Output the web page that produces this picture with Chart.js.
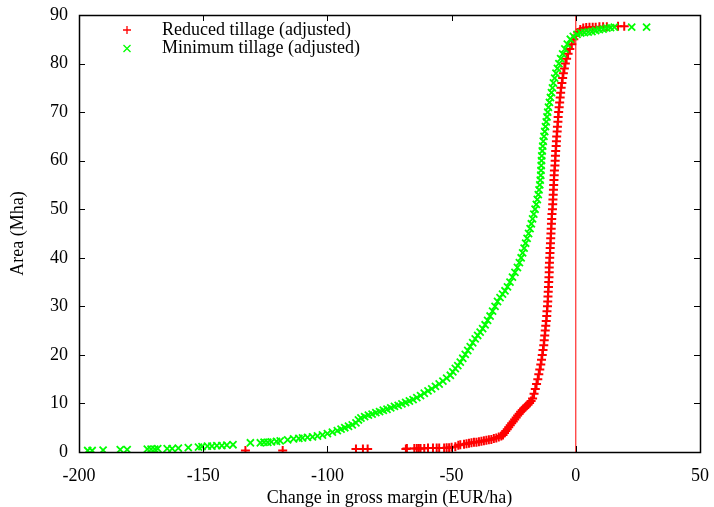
<!DOCTYPE html>
<html>
<head>
<meta charset="utf-8">
<script src="https://cdn.jsdelivr.net/npm/chart.js@4"></script>
<style>
  body { margin: 0; background: #fff; }
</style>
</head>
<body>
<canvas id="chart" width="714" height="507"></canvas>
<script>
// cumulative area (Mha) against change in gross margin (EUR/ha), sorted
const reducedTillage = [
  [-133, 0.3], [-118, 0.3], [-88.5, 0.6], [-85.7, 0.6], [-83.8, 0.6],
  [-68.4, 0.6], [-68, 0.7], [-65, 0.7], [-64, 0.7], [-63.2, 0.7], [-62.5, 0.7], [-61, 0.7], [-59.5, 0.8],
  [-57.5, 0.8], [-56, 0.8], [-55, 0.8], [-53, 0.8], [-52, 0.9], [-51, 0.9], [-50, 1.0], [-48.5, 1.1],
  [-47.3, 1.4], [-46.5, 1.5], [-45, 1.6], [-44, 1.7], [-43, 1.8], [-42, 1.9], [-41, 2.0], [-40, 2.0],
  [-39, 2.1], [-38, 2.2], [-37, 2.3], [-36, 2.4], [-35, 2.5], [-34, 2.6], [-33, 2.8], [-32, 2.9],
  [-31, 3.1], [-30, 3.3], [-29.3, 3.5], [-28.7, 3.9], [-28.2, 4.3], [-27.6, 4.7], [-27, 5.1], [-26.4, 5.5],
  [-25.8, 5.9], [-25.2, 6.3], [-24.6, 6.7], [-24, 7.1], [-23.4, 7.5], [-22.8, 7.9], [-22.2, 8.3], [-21.6, 8.6],
  [-21, 8.9], [-20.4, 9.2], [-19.8, 9.5], [-19.2, 9.8], [-18.6, 10.1], [-18, 10.5],
  [-17.4, 11], [-16.8, 12], [-16.3, 13], [-15.8, 14], [-15.3, 15], [-14.9, 16], [-14.5, 17], [-14.1, 18], [-13.8, 19], [-13.5, 20],
  [-13.2, 21], [-12.9, 22], [-12.7, 23], [-12.5, 24], [-12.3, 25], [-12.1, 26], [-11.9, 27], [-11.7, 28], [-11.6, 29], [-11.4, 30],
  [-11.3, 31], [-11.2, 32], [-11.1, 33], [-11.0, 34], [-10.9, 35], [-10.8, 36], [-10.7, 37], [-10.7, 38], [-10.6, 39], [-10.5, 40],
  [-10.4, 41], [-10.3, 42], [-10.2, 43], [-10.1, 44], [-10.0, 45], [-9.9, 46], [-9.8, 47], [-9.7, 48], [-9.6, 49], [-9.4, 50],
  [-9.3, 51], [-9.2, 52], [-9.1, 53], [-9.0, 54], [-8.9, 55], [-8.8, 56], [-8.7, 57], [-8.6, 58], [-8.4, 59], [-8.3, 60],
  [-8.2, 61], [-8.1, 62], [-7.9, 63], [-7.8, 64], [-7.7, 65], [-7.5, 66], [-7.4, 67], [-7.2, 68], [-7.1, 69], [-6.9, 70],
  [-6.7, 71], [-6.5, 72], [-6.3, 73], [-6.1, 74], [-5.9, 75], [-5.6, 76], [-5.3, 77], [-5.0, 78], [-4.6, 79], [-4.2, 80],
  [-3.7, 81], [-3.1, 82], [-2.4, 83], [-1.6, 84], [-0.8, 85], [0, 85.8], [0.8, 86.4], [1.8, 87], [3, 87.3], [4.2, 87.4],
  [5.5, 87.5], [6.8, 87.5], [8, 87.5], [9.5, 87.6], [11, 87.6], [12.5, 87.6], [17, 87.7], [19.5, 87.7]
];

const minimumTillage = [
  [-196.5, 0.3], [-194.7, 0.3], [-190.3, 0.4], [-183.4, 0.5], [-180.6, 0.5], [-172.5, 0.6], [-171, 0.6],
  [-169.5, 0.6], [-168.3, 0.7], [-164.5, 0.7], [-162.5, 0.7], [-160, 0.8], [-156, 0.9], [-151.9, 1.0],
  [-150.5, 1.1], [-148.3, 1.2], [-146.5, 1.2], [-144.5, 1.3], [-142.5, 1.3], [-140.5, 1.4], [-138, 1.5],
  [-131, 1.9], [-127, 1.9], [-125.5, 2.0], [-124, 2.0], [-122.5, 2.1], [-120.5, 2.2], [-119, 2.3],
  [-116, 2.5], [-113.6, 2.7], [-111.5, 2.8], [-110, 2.9], [-108, 3.0],
  [-106, 3.1], [-104, 3.3], [-102, 3.5], [-100, 3.8], [-98, 4.1], [-96, 4.4], [-94.5, 4.7], [-93, 5.0], [-91.5, 5.3], [-90, 5.6],
  [-88.5, 6.0], [-87.5, 6.6], [-86.5, 7.0], [-85, 7.3], [-83.5, 7.6], [-82, 7.8], [-80.5, 8.1], [-79, 8.3], [-77.5, 8.6], [-76, 8.8],
  [-74.5, 9.1], [-73, 9.4], [-71.5, 9.6], [-70, 9.9], [-68.5, 10.2], [-67, 10.5], [-65.5, 10.8], [-64, 11.2], [-62.5, 11.6], [-61, 12.1],
  [-59.5, 12.6], [-58, 13.0], [-56.5, 13.5], [-55, 14.0], [-53.5, 14.6], [-52, 15.2], [-50.5, 15.8], [-49.5, 16.5], [-48.5, 17.2], [-47.5, 17.8],
  [-46.5, 18.5], [-45.5, 19.3], [-44.5, 20.1], [-43.5, 20.9], [-42.5, 21.7], [-41.5, 22.5], [-40.5, 23.3], [-39.5, 24.0], [-38.5, 24.7], [-37.5, 25.4],
  [-36.5, 26.2], [-35.5, 27.1], [-34.5, 28.0], [-33.5, 29.0], [-32.5, 30.0], [-31.5, 31.0], [-30.5, 31.8], [-29.5, 32.5], [-28.5, 33.2], [-27.5, 34.0],
  [-26.5, 35.0], [-25.5, 36.0], [-24.5, 37.0], [-23.5, 38.0], [-22.7, 39.0], [-22, 40.0], [-21.4, 41.0], [-20.8, 42.0], [-20.2, 43.0], [-19.6, 44.0],
  [-19.0, 45.0], [-18.4, 46.0], [-17.9, 47.0], [-17.4, 48.0], [-16.9, 49.0], [-16.4, 50.0], [-15.9, 51.0], [-15.5, 52.0], [-15.1, 53.0], [-14.8, 54.0],
  [-14.5, 55.0], [-14.3, 56.0], [-14.1, 57.0], [-14.0, 58.0], [-13.9, 59.0], [-13.8, 60.0], [-13.7, 61.0], [-13.5, 62.0], [-13.3, 63.0], [-13.1, 64.0],
  [-12.8, 65.0], [-12.5, 66.0], [-12.2, 67.0], [-11.9, 68.0], [-11.6, 69.0], [-11.3, 70.0], [-11.0, 71.0], [-10.6, 72.0], [-10.2, 73.0], [-9.8, 74.0],
  [-9.4, 75.0], [-9.0, 76.0], [-8.5, 77.0], [-8.0, 78.0], [-7.4, 79.0], [-6.8, 80.0], [-6.1, 81.0], [-5.3, 82.0], [-4.4, 83.0], [-3.4, 84.0],
  [-2.2, 85.0], [-1.0, 85.6], [0.5, 86.0], [2, 86.3], [3.5, 86.4], [5, 86.5], [6.5, 86.6], [8, 86.8], [9.5, 87.0], [11, 87.1],
  [12.5, 87.3], [14, 87.4], [15.5, 87.5], [22.5, 87.5], [28.5, 87.5]
];

const seriesNames = ["Reduced tillage (adjusted)", "Minimum tillage (adjusted)"];
const seriesColors = ["#ff0000", "#00ff00"];
const xTicks = [-200, -150, -100, -50, 0, 50];
const yTicks = [0, 10, 20, 30, 40, 50, 60, 70, 80, 90];
const zeroLine = [[0, 0], [0, 90]];

const serif = { family: '"Liberation Serif", "Times New Roman", serif', size: 18 };

const toPoints = arr => arr.map(p => ({ x: p[0], y: p[1] }));

// frame, inward tick marks on all four sides, and the key in the top-left corner
const framePlugin = {
    id: "frame",
    afterDatasetsDraw(chart) {
        const ctx = chart.ctx;
        const a = chart.chartArea;
        const xs = chart.scales.x;
        const ys = chart.scales.y;
        const t = 6;
        ctx.save();
        ctx.strokeStyle = "#000";
        ctx.lineWidth = 1;
        ctx.beginPath();
        xTicks.forEach(v => {
            const px = Math.round(xs.getPixelForValue(v)) + 0.5;
            ctx.moveTo(px, a.bottom); ctx.lineTo(px, a.bottom - t);
            ctx.moveTo(px, a.top); ctx.lineTo(px, a.top + t);
        });
        yTicks.forEach(v => {
            const py = Math.round(ys.getPixelForValue(v)) + 0.5;
            ctx.moveTo(a.left, py); ctx.lineTo(a.left + t, py);
            ctx.moveTo(a.right, py); ctx.lineTo(a.right - t, py);
        });
        ctx.stroke();
        ctx.lineWidth = 1.5;
        ctx.strokeRect(Math.round(a.left) + 0.5, Math.round(a.top) + 0.5,
            Math.round(a.right - a.left), Math.round(a.bottom - a.top));

        // key
        ctx.font = '18px "Liberation Serif", "Times New Roman", serif';
        ctx.textBaseline = "middle";
        ctx.lineWidth = 1.3;
        seriesNames.forEach((name, i) => {
            const y = 30 + i * 18.5;
            const x = 127;
            ctx.strokeStyle = seriesColors[i];
            ctx.beginPath();
            if (i === 0) {
                ctx.moveTo(x - 4, y); ctx.lineTo(x + 4, y);
                ctx.moveTo(x, y - 4); ctx.lineTo(x, y + 4);
            } else {
                ctx.moveTo(x - 3.5, y - 3.5); ctx.lineTo(x + 3.5, y + 3.5);
                ctx.moveTo(x - 3.5, y + 3.5); ctx.lineTo(x + 3.5, y - 3.5);
            }
            ctx.stroke();
            ctx.fillStyle = "#000";
            ctx.fillText(name, 162, y);
        });
        ctx.restore();
    }
};

new Chart(document.getElementById("chart"), {
    type: "scatter",
    data: {
        datasets: [
            {
                label: seriesNames[0],
                data: toPoints(reducedTillage),
                pointStyle: "cross",
                pointRadius: 4.5,
                borderColor: seriesColors[0],
                backgroundColor: seriesColors[0],
                pointBorderWidth: 2,
                order: 2
            },
            {
                label: seriesNames[1],
                data: toPoints(minimumTillage),
                pointStyle: "crossRot",
                pointRadius: 5,
                borderColor: seriesColors[1],
                backgroundColor: seriesColors[1],
                pointBorderWidth: 1.8,
                order: 1
            },
            {
                type: "line",
                label: "zero",
                data: toPoints(zeroLine),
                borderColor: "#ff0000",
                borderWidth: 1,
                pointRadius: 0,
                order: 3
            }
        ]
    },
    options: {
        responsive: false,
        animation: false,
        layout: { padding: { top: 15, right: 14, left: 0, bottom: 0 } },
        plugins: {
            legend: { display: false },
            tooltip: { enabled: false }
        },
        scales: {
            x: {
                type: "linear",
                min: -200,
                max: 50,
                afterBuildTicks: s => { s.ticks = xTicks.map(v => ({ value: v })); },
                afterFit: s => { s.height = 55; s.paddingLeft = 0; s.paddingRight = 0; },
                grid: { display: false, drawTicks: false },
                border: { display: false },
                ticks: { font: serif, color: "#000", padding: 13 },
                title: {
                    display: true,
                    text: "Change in gross margin (EUR/ha)",
                    font: Object.assign({}, serif, { lineHeight: 1 }),
                    color: "#000",
                    padding: { top: 0, bottom: 0 }
                }
            },
            y: {
                type: "linear",
                min: 0,
                max: 90,
                afterBuildTicks: s => { s.ticks = yTicks.map(v => ({ value: v })); },
                afterFit: s => { s.width = 79; s.paddingTop = 0; s.paddingBottom = 0; },
                grid: { display: false, drawTicks: false },
                border: { display: false },
                ticks: { font: serif, color: "#000", padding: 11 },
                title: {
                    display: true,
                    text: "Area (Mha)",
                    font: serif,
                    color: "#000",
                    padding: { top: 7, bottom: 0 }
                }
            }
        }
    },
    plugins: [framePlugin]
});
</script>
</body>
</html>
